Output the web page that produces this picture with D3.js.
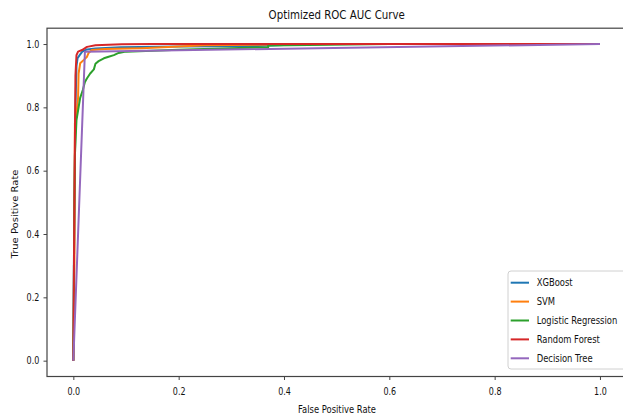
<!DOCTYPE html>
<html>
<head>
<meta charset="utf-8">
<script src="https://cdn.jsdelivr.net/npm/d3@7"></script>
<style>
  body { margin: 0; background: #fff; }
  text { font-family: "DejaVu Sans", sans-serif; fill: #111; }
</style>
</head>
<body>
<script>
// ROC points (fpr, tpr)
var xgbFpr = [0, 0.001, 0.004, 0.006, 0.008, 0.012, 0.017, 0.026, 0.042, 0.09, 0.2, 0.35, 0.45, 1];
var xgbTpr = [0, 0.3, 0.8, 0.93, 0.955, 0.965, 0.976, 0.983, 0.986, 0.99, 0.992, 0.994, 1.0, 1];

var svmFpr = [0, 0.002, 0.003, 0.006, 0.009, 0.010, 0.013, 0.020, 0.026, 0.029, 0.035, 0.06, 0.13, 0.25, 0.5, 1];
var svmTpr = [0, 0.3, 0.75, 0.78, 0.83, 0.907, 0.939, 0.95, 0.96, 0.972, 0.981, 0.984, 0.987, 0.996, 1.0, 1];

var lrFpr = [0, 0.002, 0.003, 0.006, 0.010, 0.013, 0.018, 0.022, 0.026, 0.032, 0.039, 0.042, 0.048, 0.058, 0.067, 0.077, 0.086, 0.1, 0.2, 0.37, 0.37, 0.6, 1];
var lrTpr = [0, 0.5, 0.65, 0.76, 0.8, 0.83, 0.855, 0.88, 0.892, 0.907, 0.92, 0.938, 0.946, 0.955, 0.96, 0.965, 0.972, 0.976, 0.982, 0.99, 0.995, 1, 1];

var rfFpr = [0, 0.002, 0.004, 0.006, 0.009, 0.0165, 0.026, 0.042, 0.092, 0.15, 1];
var rfTpr = [0, 0.5, 0.9, 0.965, 0.976, 0.981, 0.991, 0.996, 0.999, 1.0, 1];

var dtFpr = [0, 0.022, 1];
var dtTpr = [0, 0.976, 1];

var modelNames = ["XGBoost", "SVM", "Logistic Regression", "Random Forest", "Decision Tree"];
var modelColors = ["#1f77b4", "#ff7f0e", "#2ca02c", "#d62728", "#9467bd"];
var tickLabels = [0, 0.2, 0.4, 0.6, 0.8, 1.0];

var curves = [[xgbFpr, xgbTpr], [svmFpr, svmTpr], [lrFpr, lrTpr], [rfFpr, rfTpr], [dtFpr, dtTpr]];

var width = 623, height = 417;
var sx = 0.8; // the picture is squeezed sideways, so text is too

var svg = d3.select("body").append("svg")
  .attr("width", width)
  .attr("height", height);

var x = d3.scaleLinear().domain([-0.05, 1.05]).range([47, 626.3]);
var y = d3.scaleLinear().domain([-0.05, 1.05]).range([376.5, 28.2]);

svg.append("clipPath").attr("id", "clip")
  .append("rect")
  .attr("x", x(-0.05)).attr("y", y(1.05))
  .attr("width", x(1.05) - x(-0.05)).attr("height", y(-0.05) - y(1.05));

var line = d3.line()
  .x(function(d) { return x(d[0]); })
  .y(function(d) { return y(d[1]); });

var plot = svg.append("g").attr("clip-path", "url(#clip)");

curves.forEach(function(c, i) {
  var pts = c[0].map(function(f, j) { return [f, c[1][j]]; });
  plot.append("path")
    .datum(pts)
    .attr("d", line)
    .attr("fill", "none")
    .attr("stroke", modelColors[i])
    .attr("stroke-width", 2)
    .attr("stroke-linejoin", "round");
});

// frame
svg.append("rect")
  .attr("x", x(-0.05)).attr("y", y(1.05))
  .attr("width", x(1.05) - x(-0.05)).attr("height", y(-0.05) - y(1.05))
  .attr("fill", "none")
  .attr("stroke", "#444")
  .attr("stroke-width", 1.2);

var xAxis = svg.append("g")
  .attr("transform", "translate(0," + y(-0.05) + ")")
  .call(d3.axisBottom(x).tickValues(tickLabels).tickFormat(d3.format(".1f")).tickSize(3.5).tickPadding(7.5));

var yAxis = svg.append("g")
  .attr("transform", "translate(" + x(-0.05) + ",0)")
  .call(d3.axisLeft(y).tickValues(tickLabels).tickFormat(d3.format(".1f")).tickSize(3.5).tickPadding(6.1));

[xAxis, yAxis].forEach(function(a) {
  a.select(".domain").remove();
  a.selectAll(".tick line").attr("stroke", "#444").attr("stroke-width", 1);
  a.selectAll(".tick text")
    .attr("font-family", "DejaVu Sans")
    .attr("font-size", 10)
    .attr("fill", "#111")
    .attr("transform", "scale(" + sx + ",1)");
});

function label(txt, px, py, size, rot) {
  var t = svg.append("g")
    .attr("transform", "translate(" + px + "," + py + ") scale(" + sx + ",1)" + (rot ? " rotate(" + rot + ")" : ""))
    .append("text")
    .attr("text-anchor", "middle")
    .attr("font-size", size)
    .text(txt);
  return t;
}

label("Optimized ROC AUC Curve", 336.7, 18.5, 12.8);
label("False Positive Rate", 337, 412.5, 10.5);
label("True Positive Rate", 17.5, 214, 10, -90);

// legend
var lg = svg.append("g");
lg.append("rect")
  .attr("x", 508).attr("y", 271)
  .attr("width", 125).attr("height", 98)
  .attr("rx", 3)
  .attr("fill", "#fff")
  .attr("fill-opacity", 0.8)
  .attr("stroke", "#d0d0d0");

modelNames.forEach(function(name, i) {
  var ly = 282.7 + i * 18.9;
  lg.append("line")
    .attr("x1", 510.7).attr("x2", 529)
    .attr("y1", ly).attr("y2", ly)
    .attr("stroke", modelColors[i])
    .attr("stroke-width", 2);
  lg.append("g")
    .attr("transform", "translate(536.7," + (ly + 3.7) + ") scale(" + sx + ",1)")
    .append("text")
    .attr("font-size", 10.5)
    .text(name);
});
</script>
</body>
</html>
